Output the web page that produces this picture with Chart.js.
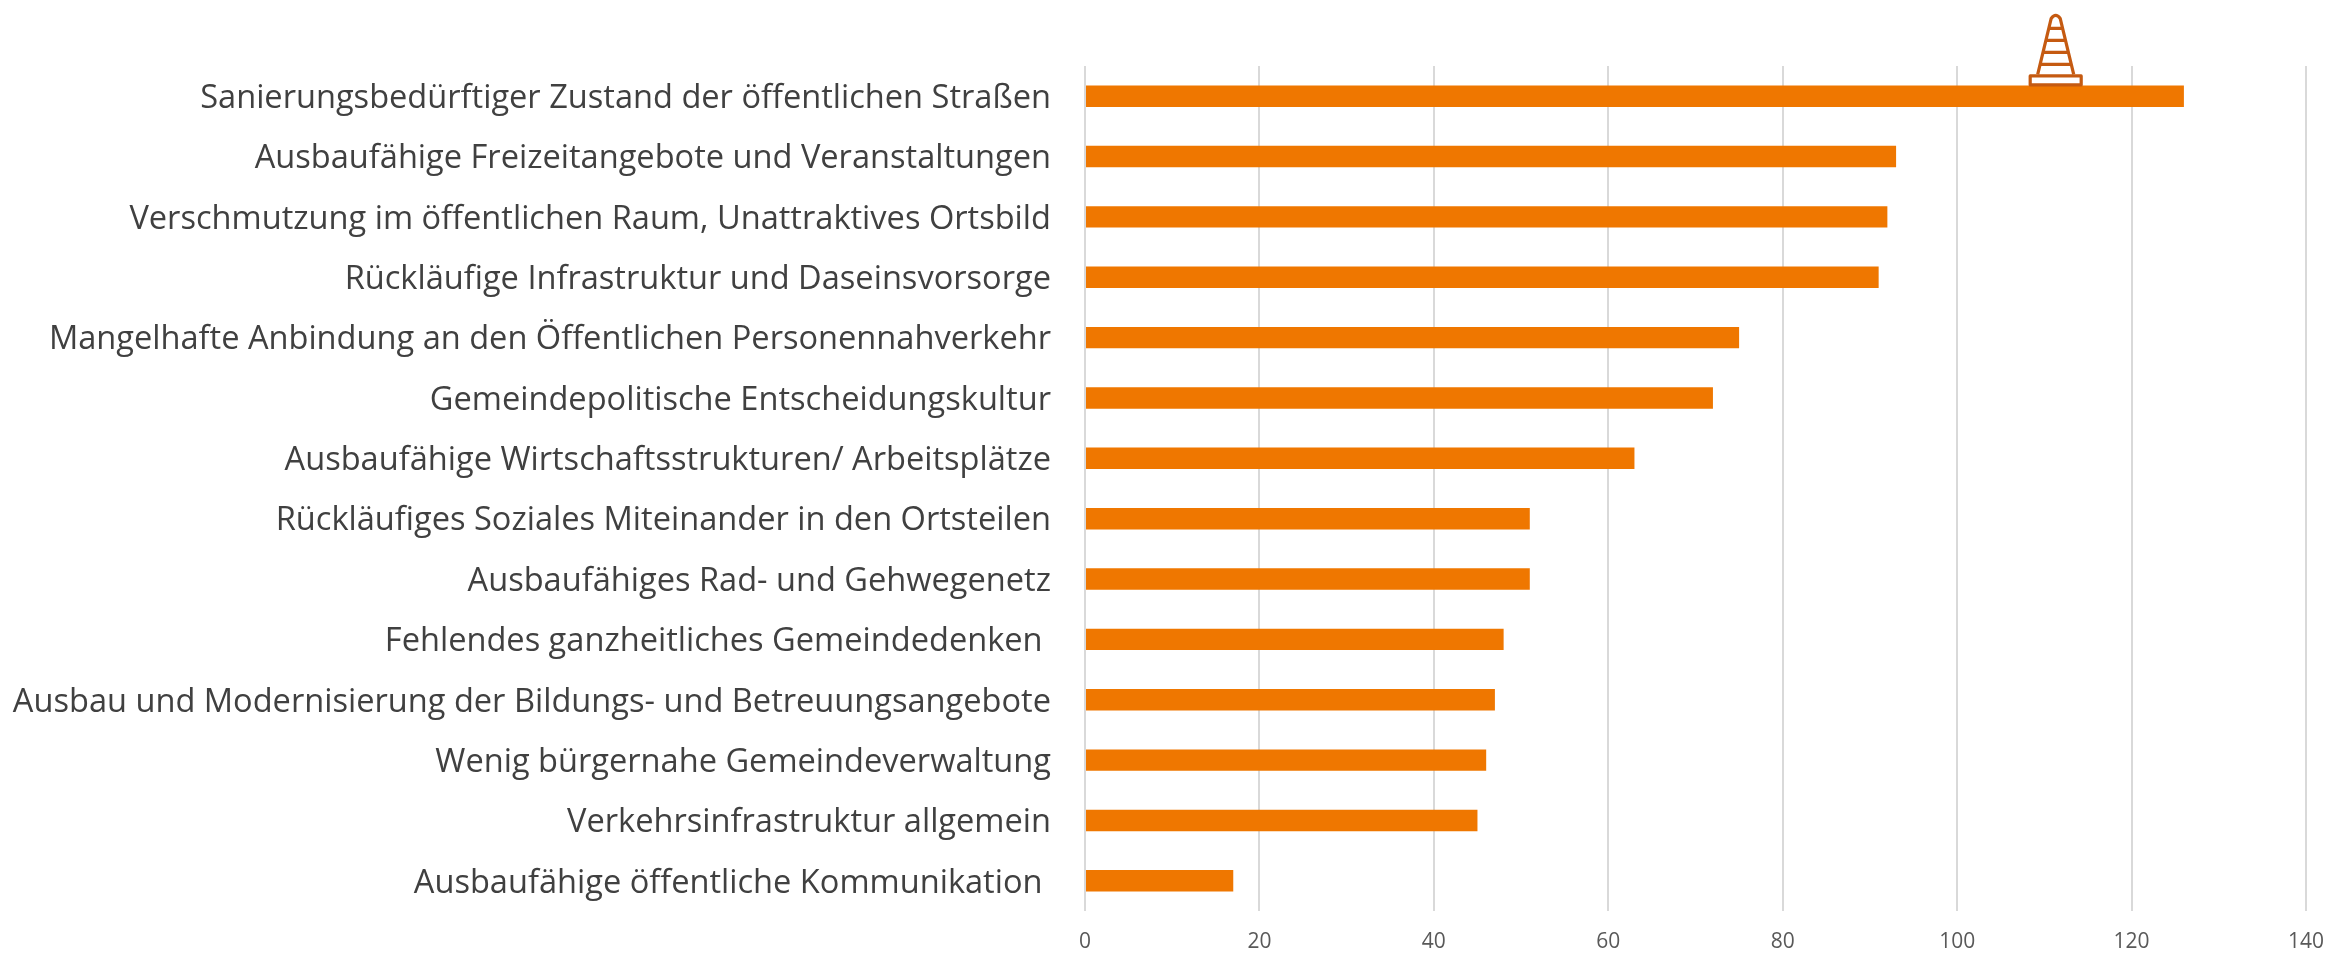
<!DOCTYPE html>
<html><head><meta charset="utf-8">
<style>html,body{margin:0;padding:0;background:#fff}#w{position:relative;width:2326px;height:957px}</style>
<script src="https://cdn.jsdelivr.net/npm/chart.js@4"></script>
</head><body><div id="w"><canvas id="c" width="2326" height="957"></canvas></div>
<script>
const categories = [
"Sanierungsbedürftiger Zustand der öffentlichen Straßen",
"Ausbaufähige Freizeitangebote und Veranstaltungen",
"Verschmutzung im öffentlichen Raum, Unattraktives Ortsbild",
"Rückläufige Infrastruktur und Daseinsvorsorge",
"Mangelhafte Anbindung an den Öffentlichen Personennahverkehr",
"Gemeindepolitische Entscheidungskultur",
"Ausbaufähige Wirtschaftsstrukturen/ Arbeitsplätze",
"Rückläufiges Soziales Miteinander in den Ortsteilen",
"Ausbaufähiges Rad- und Gehwegenetz",
"Fehlendes ganzheitliches Gemeindedenken ",
"Ausbau und Modernisierung der Bildungs- und Betreuungsangebote",
"Wenig bürgernahe Gemeindeverwaltung",
"Verkehrsinfrastruktur allgemein",
"Ausbaufähige öffentliche Kommunikation "
];
const values = [126,93,92,91,75,72,63,51,51,48,47,46,45,17];
const coneAtValue = 111.3;

const labelNudge = {
  id:'labelNudge',
  beforeDraw(chart){
    chart.scales.y.getLabelItems().forEach(i=>{
      if(!i.nudged){ i.options.translation[1]+=2.5; i.nudged=true; }
    });
  }
};
const cone = {
  id:'cone',
  afterDatasetsDraw(chart){
    const {ctx,scales} = chart;
    const bar = chart.getDatasetMeta(0).data[0];
    const cx = scales.x.getPixelForValue(coneAtValue);
    const by = bar.y - bar.height/2;
    ctx.save();
    ctx.strokeStyle='#C55A11'; ctx.lineWidth=3.2; ctx.lineJoin='round';
    ctx.strokeRect(cx-25.5,by-9.5,51,9);
    ctx.beginPath();
    ctx.moveTo(cx-18,by-11);
    ctx.lineTo(cx-4.5,by-67);
    ctx.quadraticCurveTo(cx,by-73,cx+4.5,by-67);
    ctx.lineTo(cx+18,by-11);
    [-57,-45,-33,-21].forEach(d=>{
      const t=(d+11)/(-56);
      const hw=18-13.5*t;
      ctx.moveTo(cx-hw,by+d); ctx.lineTo(cx+hw,by+d);
    });
    ctx.stroke();
    ctx.restore();
  }
};
new Chart(document.getElementById('c'),{
  type:'bar',
  data:{labels:categories,datasets:[{data:values,backgroundColor:'#EF7700',barPercentage:0.355,categoryPercentage:1}]},
  plugins:[labelNudge,cone],
  options:{
    indexAxis:'y',responsive:false,animation:false,
    layout:{padding:{top:66,right:20,left:0,bottom:0}},
    plugins:{legend:{display:false},tooltip:{enabled:false}},
    scales:{
      x:{min:0,max:140,
        afterFit(s){s.height=46;s.paddingLeft=0;s.paddingRight=0;},
        ticks:{stepSize:20,maxRotation:0,padding:18,color:'#595959',font:{family:'"Open Sans"',size:21}},
        grid:{color:'#D9D9D9',lineWidth:2,drawTicks:false},border:{display:false}},
      y:{
        afterFit(s){s.width=1085;s.paddingTop=0;s.paddingBottom=0;},
        ticks:{autoSkip:false,padding:26,color:'#404040',font:{family:'"Open Sans"',size:32.6}},
        grid:{display:false},border:{display:false}}
    }
  }
});
</script></body></html>
